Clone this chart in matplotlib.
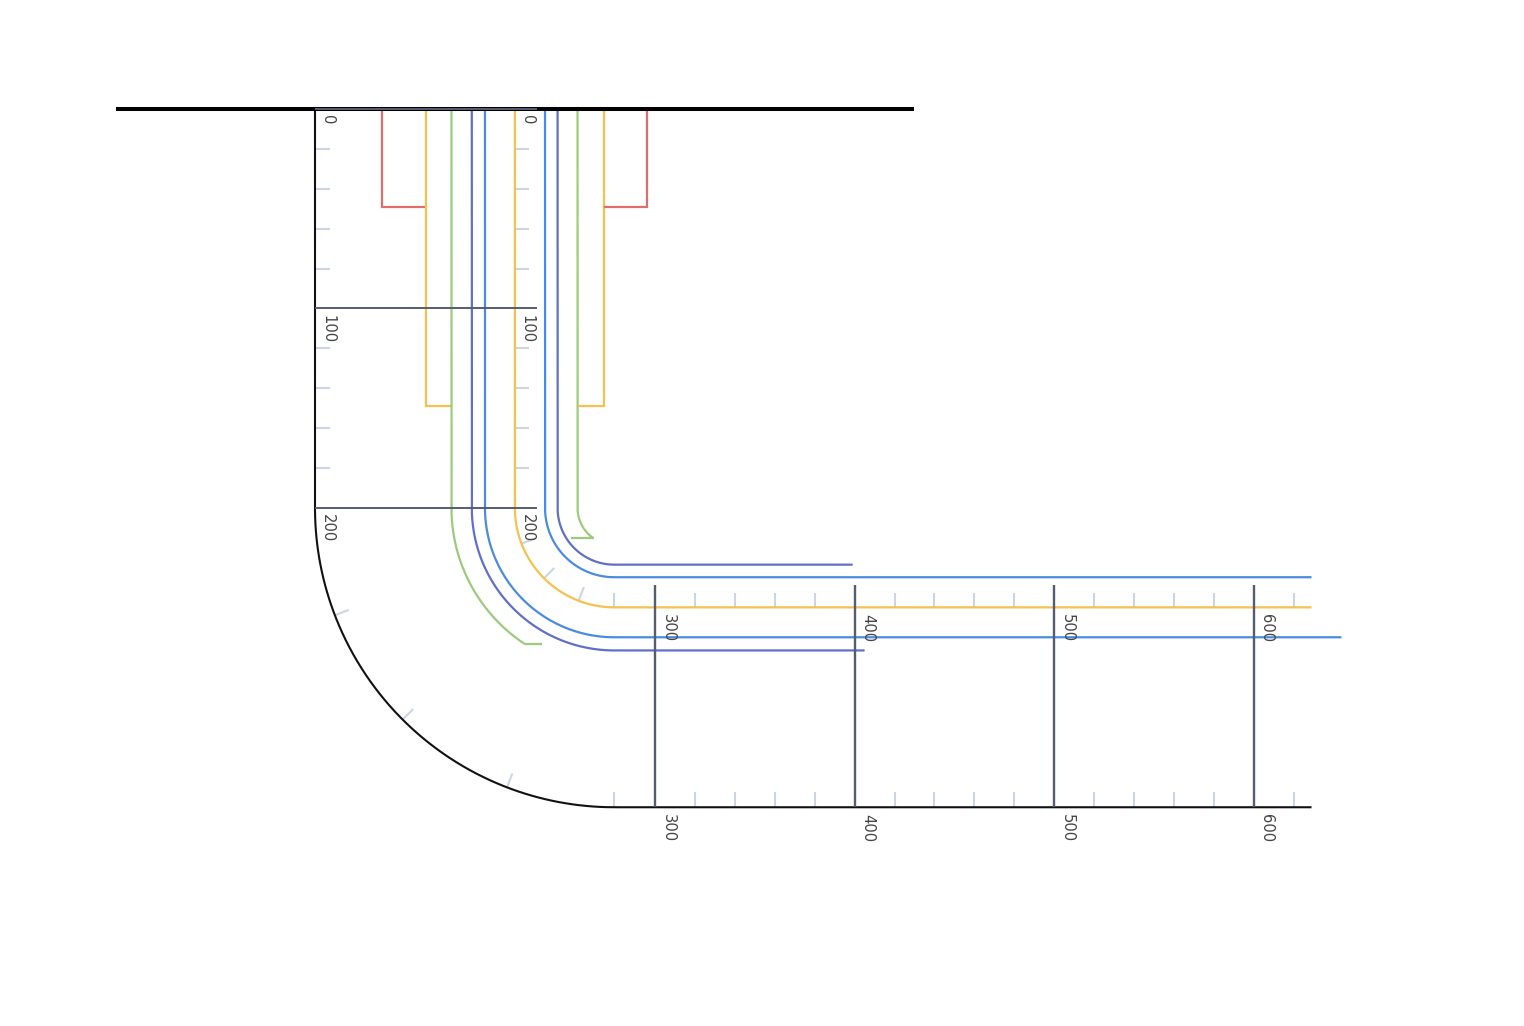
import numpy as np
import matplotlib
matplotlib.use("Agg")
import matplotlib.pyplot as plt

# Tracks: depth along the bend, lateral position across it
red_left_depth = [0, 49, 49]
red_left_lat = [33.6, 33.6, 55.6]
orange_left_depth = [0, 149, 149]
orange_left_lat = [55.6, 55.6, 68.4]
green_left_depth = [0, 249.5]
green_left_lat = [68.4, 68.4]
green_left_stub = 9
navy_left_depth = [0, 405]
navy_left_lat = [78.6, 78.6]
blue_left_depth = [0, 644]
blue_left_lat = [85.2, 85.2]
orange_mid_depth = [0, 629]
orange_mid_lat = [100.2, 100.2]
blue_right_depth = [0, 629]
blue_right_lat = [115.3, 115.3]
navy_right_depth = [0, 399]
navy_right_lat = [121.6, 121.6]
green_right_depth = [0, 249]
green_right_lat = [131.6, 131.6]
green_right_stub = -11.3
orange_right_depth = [0, 149, 149]
orange_right_lat = [144.7, 144.7, 131.6]
red_right_depth = [0, 49, 49]
red_right_lat = [166.5, 166.5, 144.7]

major_ticks = [0, 100, 200, 300, 400, 500, 600]
minor_ticks = [20, 40, 60, 80, 120, 140, 160, 180, 220, 240, 260, 280,
               320, 340, 360, 380, 420, 440, 460, 480, 520, 540, 560, 580, 620]
axis_end = 629
surface_extent = [-100, 300]

# Angle reached by the curved section at each depth through the bend
bend_depths = [200, 220, 240, 260, 280]
bend_angles = [0, 21, 45, 69, 90]

RED = "#E26D6D"
ORANGE = "#F6C14E"
GREEN = "#9CCB7E"
BLUE = "#4A8BE2"
NAVY = "#5F70C6"
GRID = "#545D73"
TICK = "#CBD5E6"
LABEL = "#444444"

SCALE = 1.995
X0, Y0 = 315.0, 109.0
W, H = 1524, 1026
CENTER, BEND_START, BEND_END = 150.0, 200.0, 280.0


def bend(depth, lat):
    """Map (depth, lateral) to plot coordinates along the curved well path."""
    depth = np.asarray(depth, float)
    lat = np.asarray(lat, float)
    r = CENTER - lat
    theta = np.radians(np.interp(depth, bend_depths, bend_angles))
    u = np.where(depth <= BEND_START, lat, CENTER - r * np.cos(theta))
    v = np.where(depth <= BEND_START, depth, BEND_START + r * np.sin(theta))
    after = depth > BEND_END
    u = np.where(after, CENTER + 0.5 + depth - BEND_END, u)
    v = np.where(after, BEND_START + r, v)
    return u, v


def path(depths, lats, n=160):
    ds, ls = [], []
    for i in range(len(depths) - 1):
        a, b = depths[i], depths[i + 1]
        t = np.linspace(0, 1, n if a != b else 2)
        ds.append(a + (b - a) * t)
        ls.append(lats[i] + (lats[i + 1] - lats[i]) * t)
    return bend(np.concatenate(ds), np.concatenate(ls))


fig = plt.figure(figsize=(W / 100, H / 100), dpi=100)
ax = fig.add_axes([0, 0, 1, 1])
ax.set_xlim(-X0 / SCALE, (W - X0) / SCALE)
ax.set_ylim((H - Y0) / SCALE, -Y0 / SCALE)
ax.axis("off")

# minor ticks on both rails
for d in minor_ticks:
    for lat in (0, 100):
        u, v = path([d, d], [lat, lat + 7.5])
        ax.plot(u, v, color=TICK, lw=1.5, zorder=1, solid_capstyle="butt")

# outer rail
u, v = path([0, axis_end], [0, 0], n=500)
ax.plot(u, v, color="#111111", lw=1.5, zorder=2, solid_capstyle="butt")

# track lines
tracks = [
    (red_left_depth, red_left_lat, RED),
    (orange_left_depth, orange_left_lat, ORANGE),
    (green_left_depth, green_left_lat, GREEN),
    (navy_left_depth, navy_left_lat, NAVY),
    (blue_left_depth, blue_left_lat, BLUE),
    (orange_mid_depth, orange_mid_lat, ORANGE),
    (blue_right_depth, blue_right_lat, BLUE),
    (navy_right_depth, navy_right_lat, NAVY),
    (green_right_depth, green_right_lat, GREEN),
    (orange_right_depth, orange_right_lat, ORANGE),
    (red_right_depth, red_right_lat, RED),
]
for d, l, c in tracks:
    u, v = path(d, l, n=500)
    ax.plot(u, v, color=c, lw=1.6, zorder=3, solid_joinstyle="miter", solid_capstyle="butt")

# flat stubs at the end of the green lines
for d, l, s in ((green_left_depth, green_left_lat, green_left_stub),
                (green_right_depth, green_right_lat, green_right_stub)):
    u, v = bend(d[-1], l[-1])
    ax.plot([u, u + s], [v, v], color=GREEN, lw=1.6, zorder=3, solid_capstyle="butt")

# surface line
ax.plot(surface_extent, [0, 0], color="black", lw=2.9, zorder=4, solid_capstyle="butt")

# major grid lines and labels
for d in major_ticks:
    u, v = path([d, d], [0, 111.5])
    lw = 1.7 if d >= 300 else 1.4
    ax.plot(u, v, color=GRID, lw=lw, zorder=5, solid_capstyle="butt")
    for lat in (0, 100):
        lu, lv = bend(d, lat)
        ax.text(lu + 6.4, lv + 3.2, str(d), rotation=-90, ha="center", va="top",
                fontsize=10.6, color=LABEL, zorder=6)

fig.savefig("out.png", dpi=100, facecolor="white")
